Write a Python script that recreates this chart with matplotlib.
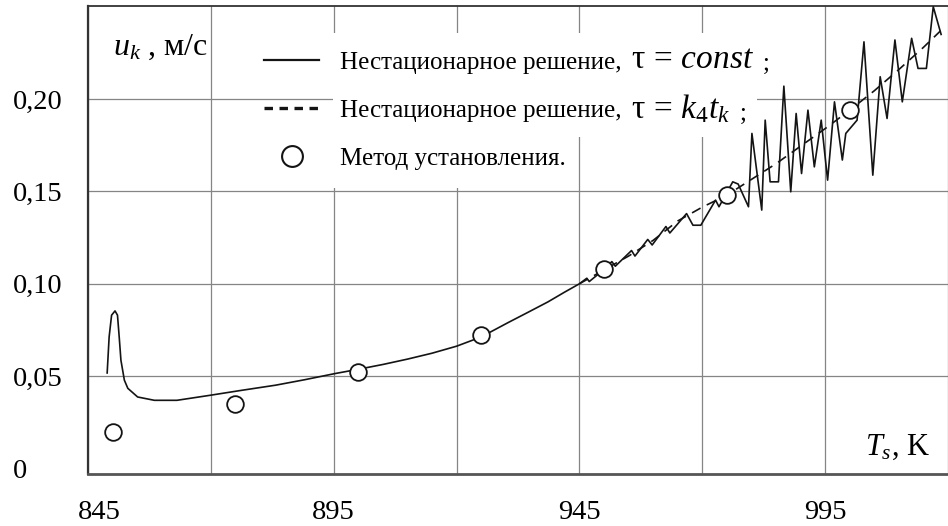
import matplotlib
matplotlib.use("Agg")
import matplotlib.pyplot as plt
import matplotlib.transforms as mtransforms
from matplotlib.lines import Line2D
from matplotlib.patches import Rectangle

plt.rcParams['font.family'] = ['Liberation Serif', 'DejaVu Serif']
plt.rcParams['mathtext.fontset'] = 'custom'
plt.rcParams['mathtext.rm'] = 'Liberation Serif'
plt.rcParams['mathtext.it'] = 'Liberation Serif:italic'
plt.rcParams['mathtext.bf'] = 'Liberation Serif:bold'
plt.rcParams['lines.scale_dashes'] = False

# Unsteady solution, tau = const
ts_const = [848.9, 849.3, 849.8, 850.5, 851.0, 851.35, 851.7, 852.4, 853.1, 855.1,
            858.5, 863.1, 869.8, 876.0, 883.2, 889.0, 895.3, 900.0, 905.0, 910.0,
            915.0, 920.0, 925.0, 930.5, 934.5, 938.6, 942.0, 945.0,
            946.5, 947.0, 949.2, 951.6, 952.3, 955.6, 956.3, 958.9, 959.8, 962.6,
            963.4, 966.8, 968.1, 969.7, 972.7, 973.4, 976.2, 977.3, 979.4, 980.1,
            982.1, 982.8, 983.8, 985.5, 986.6, 988.0, 989.1, 990.2, 991.5, 992.8,
            994.2, 995.5, 996.9, 998.5, 999.2, 1001.5, 1002.9, 1004.7, 1006.2, 1007.6,
            1009.2, 1010.7, 1012.6, 1013.9, 1015.6, 1017.0, 1018.6]
uk_const = [0.0517, 0.0712, 0.0830, 0.0853, 0.0830, 0.0712, 0.0586, 0.0478, 0.0434, 0.0387,
            0.0369, 0.0369, 0.0396, 0.0422, 0.0451, 0.0480, 0.0514, 0.0537, 0.0563, 0.0592,
            0.0624, 0.0662, 0.0712, 0.0790, 0.0845, 0.0902, 0.0955, 0.1000,
            0.1030, 0.1012, 0.1060, 0.1120, 0.1095, 0.1180, 0.1150, 0.1240, 0.1210, 0.1310,
            0.1275, 0.1380, 0.1317, 0.1317, 0.1453, 0.1417, 0.1552, 0.1540, 0.1417, 0.1814,
            0.1399, 0.1886, 0.1552, 0.1552, 0.2070, 0.1498, 0.1922, 0.1597, 0.1940, 0.1633,
            0.1886, 0.1561, 0.1985, 0.1670, 0.1814, 0.1886, 0.2310, 0.1588, 0.2121, 0.1895,
            0.2320, 0.1985, 0.2329, 0.2166, 0.2166, 0.2500, 0.2350]

# Unsteady solution, tau = k4 * tk
ts_var = [945, 950, 955, 960, 965, 970, 975, 980, 985, 990, 995, 1000, 1005, 1010, 1015, 1018.5]
uk_var = [0.1000, 0.1075, 0.1150, 0.1235, 0.1340, 0.1415, 0.1480, 0.1565, 0.1650, 0.1745,
          0.1840, 0.1940, 0.2045, 0.2160, 0.2280, 0.2370]

# Settling method
ts_est = [850, 875, 900, 925, 950, 975, 1000]
uk_est = [0.020, 0.035, 0.052, 0.072, 0.108, 0.148, 0.194]

x_ticks = [845, 895, 945, 995]
x_tick_labels = ['845', '895', '945', '995']
x_grid_extra = [870, 920, 970, 1020]
y_ticks = [0, 0.05, 0.10, 0.15, 0.20]
y_tick_labels = ['0', '0,05', '0,10', '0,15', '0,20']

legend_labels = ['Нестационарное решение,', 'Нестационарное решение,', 'Метод установления.']
legend_math = [r'$\mathrm{\tau}\, =\, const$', r'$\mathrm{\tau}\, =\, k_4 t_k$']

W, H = 948, 526
fig = plt.figure(figsize=(W / 100, H / 100), dpi=100)


def fx(px):
    return px / W


def fy(py):
    return 1 - py / H


ax = fig.add_axes([fx(88), fy(474), fx(948) - fx(88), fy(6) - fy(474)])
ax.set_xlim(845, 1017.9)
ax.set_ylim(-0.003, 0.2504)

ink = '#141414'
ax.plot(ts_const, uk_const, color=ink, lw=1.2, zorder=3)
ax.plot(ts_var, uk_var, color=ink, lw=1.2, dashes=(7, 5), zorder=3)
ax.plot(ts_est, uk_est, ls='none', marker='o', ms=12, mfc='white', mec=ink, mew=1.3, zorder=4)

# grid
ax.set_xticks(x_ticks)
ax.set_xticklabels(x_tick_labels)
ax.set_xticks(x_grid_extra, minor=True)
ax.set_yticks(y_ticks)
ax.set_yticklabels(y_tick_labels)
ax.set_axisbelow(True)
ax.grid(True, which='both', color='#858585', lw=0.9)
ax.yaxis.get_major_ticks()[0].gridline.set_visible(False)
ax.tick_params(which='both', length=0)
ax.tick_params(axis='x', pad=19, labelsize=20.5)
ax.tick_params(axis='y', pad=54, labelsize=20.5)
for lab in ax.get_yticklabels():
    lab.set_ha('left')
first = ax.get_xticklabels()[0]
first.set_transform(first.get_transform() + mtransforms.ScaledTranslation(0.11, 0, fig.dpi_scale_trans))

ax.spines['right'].set_visible(False)
ax.spines['left'].set_linewidth(1.6)
ax.spines['left'].set_color('#333333')
ax.spines['bottom'].set_linewidth(2.0)
ax.spines['bottom'].set_color('#555555')
ax.spines['top'].set_linewidth(1.3)
ax.spines['top'].set_color('#333333')

# white panel behind the legend
for (x0, y0, x1, y1) in [(333, 33, 757, 137), (333, 137, 578, 188)]:
    ax.add_patch(Rectangle((fx(x0), fy(y1)), fx(x1) - fx(x0), fy(y0) - fy(y1),
                           transform=fig.transFigure, facecolor='white',
                           edgecolor='none', zorder=1))

h1 = Line2D([], [], color=ink, lw=1.6)
h2 = Line2D([], [], color=ink, lw=2.4, dashes=(6.1, 4.7))
h3 = Line2D([], [], ls='none', marker='o', ms=15, mfc='white', mec=ink, mew=1.5)
leg = ax.legend([h1, h2, h3], legend_labels, loc='upper left',
                bbox_to_anchor=(fx(264), fy(51)), bbox_transform=fig.transFigure,
                frameon=False, borderpad=0, borderaxespad=0, handlelength=2.2,
                handletextpad=0.85, labelspacing=1.02, fontsize=18, numpoints=1)
leg.set_zorder(5)

fig.text(fx(631), fy(68), legend_math[0], fontsize=24, va='baseline')
fig.text(fx(763), fy(70), ';', fontsize=18, va='baseline')
fig.text(fx(631), fy(118), legend_math[1], fontsize=24, va='baseline')
fig.text(fx(740), fy(120), ';', fontsize=18, va='baseline')

fig.text(fx(113), fy(55), r'$u_k$ , м/с', fontsize=23, va='baseline')
fig.text(fx(865), fy(455), r'$T_s$, K', fontsize=22, va='baseline')

fig.savefig('out.png', dpi=100)
